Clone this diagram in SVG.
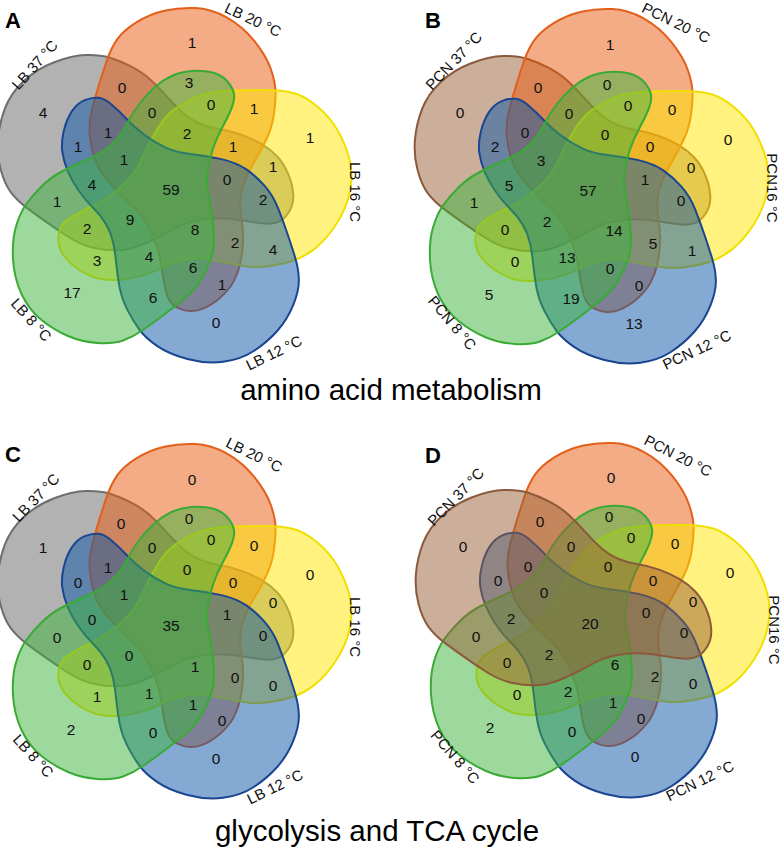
<svg xmlns="http://www.w3.org/2000/svg" width="784" height="850" viewBox="0 0 784 850">
<style>
.sh{stroke-width:2;fill-opacity:.5}
.g37{fill:#666;stroke:#6e6e6e}
.br{fill:#9a5f36;stroke:#8b5a3c}
.o{fill:#e8590c;stroke:#e3601b}
.y{fill:#ffe600;stroke:#f0e000}
.b{fill:#0a55a8;stroke:#1a4590}
.n{fill:#3cb43c;stroke:#3aaa35}
text{font-family:"Liberation Sans",Arial,sans-serif;fill:#111}
.num{font-size:15.5px;text-anchor:middle}
.lab{font-size:15px;text-anchor:middle}
.ttl{font-size:29.5px;text-anchor:middle;fill:#000}
.let{font-size:22px;font-weight:bold;fill:#000}
</style>
<defs>
<path id="shape" d="M22.5,-118 Q34,-119 43.5,-116.5 Q53,-114 58.5,-107.5 Q64,-101 65,-95 Q66,-89 62.5,-80.5 Q59,-72 53.5,-62 Q48,-52 44,-40.5 Q40,-29 38.5,-16.5 Q37,-4 40,9.5 Q43,23 44.5,39.5 Q46,56 42.5,67.5 Q39,79 32.5,90 Q26,101 15,110 Q4,119 -6,126.5 Q-16,134 -26,141 Q-36,148 -46,151.5 Q-56,155 -71.5,154 Q-87,153 -101,147 Q-115,141 -127.5,131 Q-140,121 -147.5,105 Q-155,89 -156,70 Q-157,51 -153,37.5 Q-149,24 -143,15.5 Q-137,7 -128,-2 Q-119,-11 -109,-16.5 Q-99,-22 -87.5,-27 Q-76,-32 -67.5,-37 Q-59,-42 -52.5,-49.5 Q-46,-57 -41,-67 Q-36,-77 -29,-86 Q-22,-95 -14,-102 Q-6,-109 2.5,-113 Q11,-117 22.5,-118 Z"/>
</defs>

<!-- Panel A -->
<g id="panelA">
<g transform="translate(169,189)">
<g id="A-LB37"><use href="#shape" class="sh g37" transform="rotate(72)"/></g>
<g id="A-LB20"><use href="#shape" class="sh o" transform="rotate(144)"/></g>
<g id="A-LB16"><use href="#shape" class="sh y" transform="rotate(-144)"/></g>
<g id="A-LB12"><use href="#shape" class="sh b" transform="rotate(-72)"/></g>
<g id="A-LB8"><use href="#shape" class="sh n"/></g>
</g>
<text class="let" x="5" y="28">A</text>
<text class="lab" transform="translate(35,65) rotate(-48)" y="5">LB 37 °C</text>
<text class="lab" transform="translate(253,20) rotate(25)" y="5">LB 20 °C</text>
<text class="lab" transform="translate(355,192) rotate(90)" y="5">LB 16 °C</text>
<text class="lab" transform="translate(274,353) rotate(-26)" y="5">LB 12 °C</text>
<text class="lab" transform="translate(31,320) rotate(48)" y="5">LB 8 °C</text>
<g class="num">
<text x="192" y="48">1</text><text x="122" y="93">0</text><text x="189" y="88">3</text><text x="211" y="110">0</text>
<text x="254" y="114">1</text><text x="43" y="118">4</text><text x="152" y="118">0</text><text x="310" y="143">1</text>
<text x="108" y="138">1</text><text x="187" y="139">2</text><text x="78" y="152">1</text><text x="233" y="152">1</text>
<text x="124" y="165">1</text><text x="273" y="172">1</text><text x="227" y="185">0</text><text x="92" y="190">4</text>
<text x="171" y="195">59</text><text x="263" y="205">2</text><text x="57" y="207">1</text><text x="130" y="225">9</text>
<text x="87" y="234">2</text><text x="195" y="235">8</text><text x="235" y="248">2</text><text x="273" y="255">4</text>
<text x="97" y="266">3</text><text x="149" y="262">4</text><text x="193" y="273">6</text><text x="222" y="290">1</text>
<text x="72" y="298">17</text><text x="153" y="303">6</text><text x="216" y="328">0</text>
</g>
</g>

<!-- Panel B -->
<g id="panelB">
<g transform="translate(586,190)">
<g id="B-PCN37"><use href="#shape" class="sh br" transform="rotate(72)"/></g>
<g id="B-PCN20"><use href="#shape" class="sh o" transform="rotate(144)"/></g>
<g id="B-PCN16"><use href="#shape" class="sh y" transform="rotate(-144)"/></g>
<g id="B-PCN12"><use href="#shape" class="sh b" transform="rotate(-72)"/></g>
<g id="B-PCN8"><use href="#shape" class="sh n"/></g>
</g>
<text class="let" x="425" y="28">B</text>
<text class="lab" transform="translate(454,61) rotate(-46)" y="5">PCN 37 °C</text>
<text class="lab" transform="translate(676,23) rotate(26)" y="5">PCN 20 °C</text>
<text class="lab" transform="translate(772,188) rotate(90)" y="5">PCN16 °C</text>
<text class="lab" transform="translate(697,350) rotate(-25)" y="5">PCN 12 °C</text>
<text class="lab" transform="translate(452,323) rotate(50)" y="5">PCN 8 °C</text>
<g class="num">
<text x="610" y="50">1</text><text x="538" y="93">0</text><text x="607" y="90">0</text><text x="628" y="111">0</text>
<text x="672" y="115">0</text><text x="460" y="118">0</text><text x="569" y="119">0</text><text x="728" y="145">0</text>
<text x="525" y="138">0</text><text x="605" y="140">0</text><text x="495" y="152">2</text><text x="650" y="152">0</text>
<text x="541" y="166">3</text><text x="691" y="173">0</text><text x="645" y="185">1</text><text x="509" y="191">5</text>
<text x="588" y="196">57</text><text x="681" y="206">0</text><text x="474" y="208">1</text><text x="547" y="227">2</text>
<text x="505" y="235">0</text><text x="614" y="236">14</text><text x="653" y="249">5</text><text x="692" y="256">1</text>
<text x="515" y="267">0</text><text x="567" y="263">13</text><text x="610" y="274">0</text><text x="639" y="291">0</text>
<text x="489" y="300">5</text><text x="571" y="304">19</text><text x="634" y="329">13</text>
</g>
</g>

<text class="ttl" x="391" y="400">amino acid metabolism</text>

<!-- Panel C -->
<g id="panelC">
<g transform="translate(169,625)">
<g id="C-LB37"><use href="#shape" class="sh g37" transform="rotate(72)"/></g>
<g id="C-LB20"><use href="#shape" class="sh o" transform="rotate(144)"/></g>
<g id="C-LB16"><use href="#shape" class="sh y" transform="rotate(-144)"/></g>
<g id="C-LB12"><use href="#shape" class="sh b" transform="rotate(-72)"/></g>
<g id="C-LB8"><use href="#shape" class="sh n"/></g>
</g>
<text class="let" x="5" y="462">C</text>
<text class="lab" transform="translate(36,498) rotate(-46)" y="5">LB 37 °C</text>
<text class="lab" transform="translate(254,455) rotate(26)" y="5">LB 20 °C</text>
<text class="lab" transform="translate(355,627) rotate(90)" y="5">LB 16 °C</text>
<text class="lab" transform="translate(275,787) rotate(-26)" y="5">LB 12 °C</text>
<text class="lab" transform="translate(33,756) rotate(48)" y="5">LB 8 °C</text>
<g class="num">
<text x="192" y="485">0</text><text x="121" y="529">0</text><text x="189" y="524">0</text><text x="211" y="545">0</text>
<text x="254" y="551">0</text><text x="43" y="553">1</text><text x="152" y="553">0</text><text x="310" y="580">0</text>
<text x="108" y="573">1</text><text x="187" y="575">0</text><text x="78" y="588">0</text><text x="233" y="588">0</text>
<text x="124" y="600">1</text><text x="273" y="608">0</text><text x="227" y="620">1</text><text x="92" y="625">0</text>
<text x="171" y="631">35</text><text x="263" y="641">0</text><text x="57" y="643">0</text><text x="129" y="661">0</text>
<text x="87" y="670">0</text><text x="195" y="672">1</text><text x="235" y="683">0</text><text x="273" y="691">0</text>
<text x="97" y="702">1</text><text x="149" y="699">1</text><text x="193" y="710">1</text><text x="222" y="726">0</text>
<text x="71" y="735">2</text><text x="153" y="738">0</text><text x="216" y="764">0</text>
</g>
</g>

<!-- Panel D -->
<g id="panelD">
<g transform="translate(587,624)">
<g id="D-PCN20"><use href="#shape" class="sh o" transform="rotate(144)"/></g>
<g id="D-PCN16"><use href="#shape" class="sh y" transform="rotate(-144)"/></g>
<g id="D-PCN12"><use href="#shape" class="sh b" transform="rotate(-72)"/></g>
<g id="D-PCN8"><use href="#shape" class="sh n"/></g>
<g id="D-PCN37"><use href="#shape" class="sh br" transform="rotate(72)"/></g>
</g>
<text class="let" x="425" y="463">D</text>
<text class="lab" transform="translate(456,497) rotate(-46)" y="5">PCN 37 °C</text>
<text class="lab" transform="translate(678,456) rotate(27)" y="5">PCN 20 °C</text>
<text class="lab" transform="translate(774,630) rotate(90)" y="5">PCN16 °C</text>
<text class="lab" transform="translate(700,781) rotate(-26)" y="5">PCN 12 °C</text>
<text class="lab" transform="translate(455,757) rotate(49)" y="5">PCN 8 °C</text>
<g class="num">
<text x="611" y="483">0</text><text x="540" y="527">0</text><text x="609" y="522">0</text><text x="631" y="543">0</text>
<text x="675" y="549">0</text><text x="463" y="552">0</text><text x="571" y="552">0</text><text x="730" y="578">0</text>
<text x="528" y="572">0</text><text x="608" y="572">0</text><text x="498" y="586">0</text><text x="653" y="586">0</text>
<text x="544" y="598">0</text><text x="693" y="607">0</text><text x="646" y="618">0</text><text x="511" y="624">2</text>
<text x="590" y="629">20</text><text x="684" y="638">0</text><text x="476" y="642">0</text><text x="549" y="660">2</text>
<text x="507" y="668">0</text><text x="615" y="670">6</text><text x="655" y="682">2</text><text x="693" y="689">0</text>
<text x="517" y="700">0</text><text x="568" y="697">2</text><text x="613" y="708">1</text><text x="641" y="724">0</text>
<text x="490" y="733">2</text><text x="572" y="737">0</text><text x="635" y="762">0</text>
</g>
</g>

<text class="ttl" x="377" y="841">glycolysis and TCA cycle</text>
</svg>
